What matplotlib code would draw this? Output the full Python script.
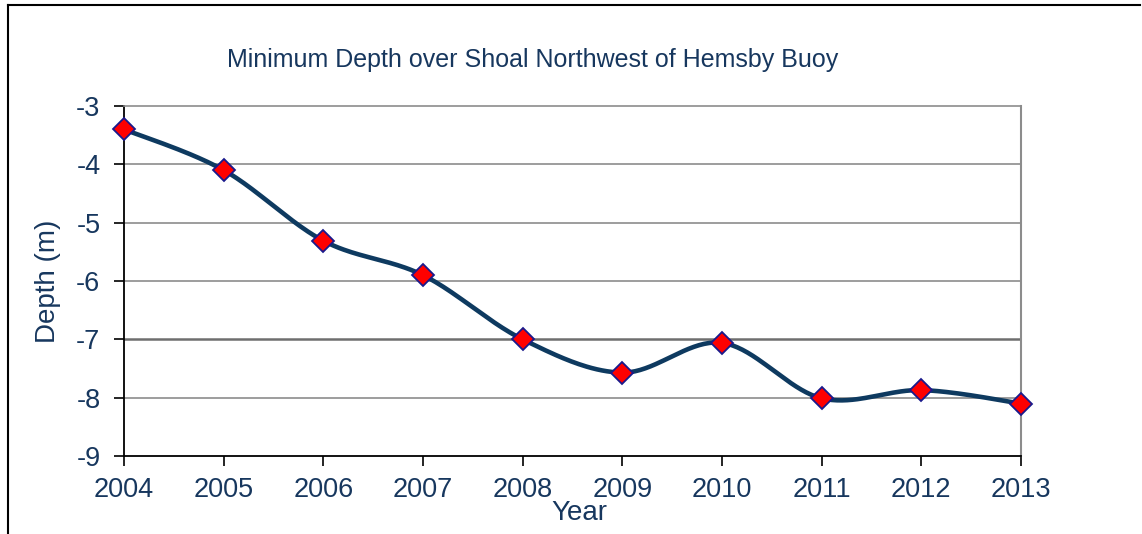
import numpy as np
import matplotlib
matplotlib.use("Agg")
import matplotlib.pyplot as plt
from matplotlib.lines import Line2D

years = [2004, 2005, 2006, 2007, 2008, 2009, 2010, 2011, 2012, 2013]
depth = [-3.4, -4.1, -5.31, -5.9, -7.0, -7.57, -7.06, -8.01, -7.87, -8.1]
y_ticks = [-3, -4, -5, -6, -7, -8, -9]

title = "Minimum Depth over Shoal Northwest of Hemsby Buoy"
xlabel = "Year"
ylabel = "Depth (m)"

text_col = "#17375E"
line_col = "#0E3A60"

plt.rcParams['font.family'] = ['Liberation Sans', 'DejaVu Sans']

fig = plt.figure(figsize=(11.42, 5.34), dpi=100)
fig.patch.set_facecolor("white")
ax = fig.add_axes([0.1086, 0.146, 0.894 - 0.1086, 0.8015 - 0.146])

# Excel-like smoothed line (Bezier between data points)
def smooth(x, y, n=40, t=1/6):
    x = np.asarray(x, float); y = np.asarray(y, float)
    px, py = [], []
    for i in range(len(x) - 1):
        x0, y0 = (x[i-1], y[i-1]) if i > 0 else (x[i], y[i])
        x3, y3 = (x[i+2], y[i+2]) if i + 2 < len(x) else (x[i+1], y[i+1])
        c1x = x[i] + (x[i+1] - x0) * t; c1y = y[i] + (y[i+1] - y0) * t
        c2x = x[i+1] - (x3 - x[i]) * t; c2y = y[i+1] - (y3 - y[i]) * t
        s = np.linspace(0, 1, n)
        bx = (1-s)**3*x[i] + 3*(1-s)**2*s*c1x + 3*(1-s)*s**2*c2x + s**3*x[i+1]
        by = (1-s)**3*y[i] + 3*(1-s)**2*s*c1y + 3*(1-s)*s**2*c2y + s**3*y[i+1]
        px.extend(bx); py.extend(by)
    return np.array(px), np.array(py)

sx, sy = smooth(years, depth)
ax.plot(sx, sy, color=line_col, lw=3.3, zorder=3, solid_capstyle='round')
ax.plot(years, depth, linestyle='none', marker='D', markersize=11,
        markerfacecolor='#FF0000', markeredgecolor='#1A1A8C', markeredgewidth=1.3,
        zorder=4, clip_on=False)

ax.set_xlim(2004, 2013)
ax.set_ylim(-9, -3)
ax.set_xticks(years)
ax.set_yticks(y_ticks)
ax.set_xticklabels([str(y) for y in years])
ax.set_yticklabels([str(v) for v in y_ticks])

for v in y_ticks[1:-1]:
    if v == -7:
        ax.axhline(v, color='#6E6E6E', lw=1.8, zorder=1)
    else:
        ax.axhline(v, color='#8C8C8C', lw=1.2, zorder=1)

ax.spines['top'].set_color('#8C8C8C'); ax.spines['top'].set_linewidth(1.2)
ax.spines['right'].set_color('#8C8C8C'); ax.spines['right'].set_linewidth(1.5)
ax.spines['left'].set_color('black'); ax.spines['left'].set_linewidth(1.3)
ax.spines['bottom'].set_color('black'); ax.spines['bottom'].set_linewidth(1.3)

ax.tick_params(axis='both', direction='out', length=7, width=1.2, color='black',
               labelsize=19.5, labelcolor=text_col)
ax.tick_params(axis='x', pad=8)
ax.tick_params(axis='y', pad=10)

ax.set_xlabel(xlabel, fontsize=20, color=text_col)
ax.xaxis.set_label_coords(0.508, -0.125)
ax.set_ylabel(ylabel, fontsize=20, color=text_col, labelpad=11)
fig.text(0.4667, 0.887, title, fontsize=18, color=text_col, ha='center', va='center')

# outer frame lines
fig.add_artist(Line2D([8/1142, 8/1142], [0, 1 - 5/534], color='black', lw=1.5,
                      transform=fig.transFigure))
fig.add_artist(Line2D([8/1142, 1140/1142], [1 - 5/534, 1 - 5/534], color='black', lw=1.5,
                      transform=fig.transFigure))

fig.savefig("out.png", dpi=100, facecolor='white')
